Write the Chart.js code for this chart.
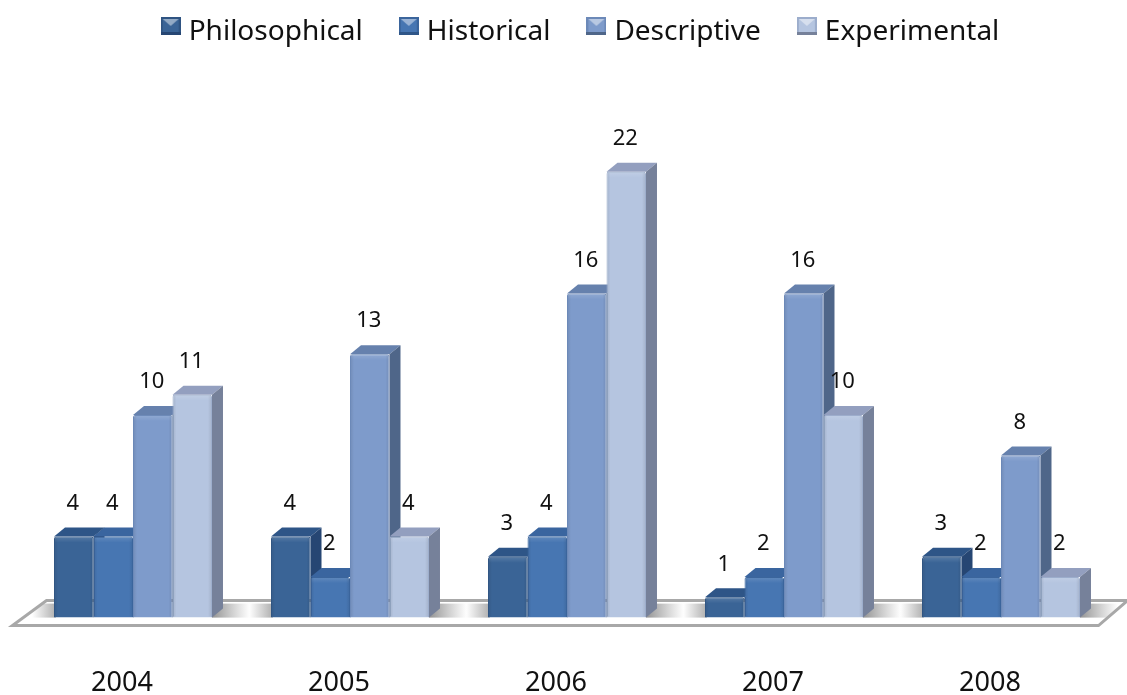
<!DOCTYPE html>
<html lang="en">
<head>
<meta charset="UTF-8">
<title>Research types by year</title>
<script src="https://cdn.jsdelivr.net/npm/chart.js"></script>
<style>
    html, body { margin: 0; padding: 0; background: #fff; }
    #wrap { width: 1127px; height: 695px; position: relative; }
</style>
</head>
<body>
<div id="wrap"><canvas id="myChart"></canvas></div>
<script>
    var years = ['2004', '2005', '2006', '2007', '2008'];
    var philosophical = [4, 4, 3, 1, 3];
    var historical = [4, 2, 4, 2, 2];
    var descriptive = [10, 13, 16, 16, 8];
    var experimental = [11, 4, 22, 10, 2];

    var seriesNames = ['Philosophical', 'Historical', 'Descriptive', 'Experimental'];
    var fronts = ['#3a6496', '#4776b2', '#7e9bcb', '#b5c5e0'];
    var edges = ['#2f5482', '#3b659c', '#6c89b8', '#9cadcc'];
    var tops = ['#2e5587', '#3a659f', '#6681ad', '#939fbf'];
    var sides = ['#264673', '#2f5688', '#4f6689', '#76819a'];

    var DX = 11, DY = 9;

    // small beveled square for the legend, sits high in a taller canvas
    function legendBox(i) {
        var c = document.createElement('canvas');
        c.width = 20; c.height = 30;
        var g = c.getContext('2d');
        g.fillStyle = edges[i];
        g.fillRect(0, 0, 20, 18);
        g.fillStyle = sides[i];
        g.fillRect(0, 15, 20, 3);
        g.fillStyle = fronts[i];
        g.fillRect(2, 2, 16, 13);
        g.fillStyle = 'rgba(255,255,255,0.45)';
        g.beginPath();
        g.moveTo(2, 2); g.lineTo(18, 2); g.lineTo(10, 9);
        g.fill();
        return c;
    }

    // legend sits right of centre and the plot starts well below it
    const legendPlace = {
        id: 'legendPlace',
        beforeInit: function (chart) {
            var fit = chart.legend.fit;
            chart.legend.fit = function () {
                fit.call(this);
                this.height = 135;
            };
        },
        afterLayout: function (chart) {
            chart.legend.left += 32;
        }
    };

    // the grey tray the bars stand on, with shadows around each group
    const floor = {
        id: 'floor',
        beforeDatasetsDraw: function (chart) {
            var ctx = chart.ctx;
            var x = chart.scales.x, y = chart.scales.y;
            var base = y.getPixelForValue(0);
            var l = x.left - 12, r = x.right - 11;
            var t = base - 17, b = base + 8;

            ctx.save();
            ctx.beginPath();
            ctx.moveTo(l, b); ctx.lineTo(r, b); ctx.lineTo(r + 29, t); ctx.lineTo(l + 34, t);
            ctx.closePath();
            ctx.fillStyle = '#fff';
            ctx.fill();
            ctx.clip();

            var step = x.width / years.length;
            years.forEach(function (yr, i) {
                var cx = x.getPixelForValue(i);
                var gl = cx - step * 0.364, gr = cx + step * 0.364;
                var a = ctx.createLinearGradient(gl - 22, 0, gl + 2, 0);
                a.addColorStop(0, 'rgba(120,120,120,0)');
                a.addColorStop(1, 'rgba(120,120,120,0.6)');
                ctx.fillStyle = a;
                ctx.fillRect(gl - 22, t + 3, 24, base - t - 3);
                var s = ctx.createLinearGradient(gr, 0, gr + 38, 0);
                s.addColorStop(0, 'rgba(100,100,100,0.7)');
                s.addColorStop(1, 'rgba(120,120,120,0)');
                ctx.fillStyle = s;
                ctx.fillRect(gr, t + 3, 38, base - t - 3);
            });
            ctx.restore();

            ctx.beginPath();
            ctx.moveTo(l, b); ctx.lineTo(r, b); ctx.lineTo(r + 29, t); ctx.lineTo(l + 34, t);
            ctx.closePath();
            ctx.strokeStyle = '#a8a8a8';
            ctx.lineWidth = 3;
            ctx.stroke();

            drawFaces(chart);
        }
    };

    // top and side faces of all bars, left to right, the fronts come after and cover what they should
    function drawFaces(chart) {
        var ctx = chart.ctx;
        years.forEach(function (yr, j) {
            seriesNames.forEach(function (n, i) {
                var bar = chart.getDatasetMeta(i).data[j];
                var l = bar.x - bar.width / 2, r = bar.x + bar.width / 2;
                ctx.fillStyle = tops[i];
                ctx.beginPath();
                ctx.moveTo(l, bar.y); ctx.lineTo(l + DX, bar.y - DY);
                ctx.lineTo(r + DX, bar.y - DY); ctx.lineTo(r, bar.y);
                ctx.closePath();
                ctx.fill();
                ctx.fillStyle = sides[i];
                ctx.beginPath();
                ctx.moveTo(r, bar.y); ctx.lineTo(r + DX, bar.y - DY);
                ctx.lineTo(r + DX, bar.base - DY); ctx.lineTo(r, bar.base);
                ctx.closePath();
                ctx.fill();
            });
        });
    }

    const bevel = {
        id: 'bevel',
        afterDatasetDraw: function (chart, args) {
            var ctx = chart.ctx;
            chart.getDatasetMeta(args.index).data.forEach(function (bar) {
                var l = bar.x - bar.width / 2, r = bar.x + bar.width / 2;
                var h = bar.base - bar.y;
                var g = ctx.createLinearGradient(0, bar.y, 0, bar.y + 6);
                g.addColorStop(0, 'rgba(255,255,255,0.15)');
                g.addColorStop(1, 'rgba(255,255,255,0)');
                ctx.fillStyle = g;
                ctx.fillRect(l + 1, bar.y + 1, bar.width - 2, 6);
                var a = ctx.createLinearGradient(l, 0, l + 4, 0);
                a.addColorStop(0, 'rgba(0,0,0,0.1)');
                a.addColorStop(1, 'rgba(0,0,0,0)');
                ctx.fillStyle = a;
                ctx.fillRect(l + 1, bar.y + 1, 4, h - 2);
                var e = ctx.createLinearGradient(r - 4, 0, r, 0);
                e.addColorStop(0, 'rgba(0,0,0,0)');
                e.addColorStop(1, 'rgba(0,0,0,0.1)');
                ctx.fillStyle = e;
                ctx.fillRect(r - 5, bar.y + 1, 4, h - 2);
            });
        }
    };

    const valueLabels = {
        id: 'valueLabels',
        afterDatasetsDraw: function (chart) {
            var ctx = chart.ctx;
            ctx.save();
            ctx.font = '22px "Noto Sans"';
            ctx.fillStyle = '#111';
            ctx.textAlign = 'center';
            ctx.textBaseline = 'middle';
            chart.data.datasets.forEach(function (ds, i) {
                chart.getDatasetMeta(i).data.forEach(function (bar, j) {
                    ctx.fillText(ds.data[j], bar.x - 1, bar.y - 33);
                });
            });
            ctx.restore();
        }
    };

    function makeSet(i, values) {
        return {
            label: seriesNames[i],
            data: values,
            backgroundColor: fronts[i],
            borderColor: edges[i],
            borderWidth: 1,
            borderRadius: { topLeft: 2, topRight: 2 },
            barPercentage: 1,
            categoryPercentage: 0.728
        };
    }

    new Chart(document.getElementById('myChart'), {
        type: 'bar',
        data: {
            labels: years,
            datasets: [
                makeSet(0, philosophical),
                makeSet(1, historical),
                makeSet(2, descriptive),
                makeSet(3, experimental)
            ]
        },
        plugins: [legendPlace, floor, bevel, valueLabels],
        options: {
            responsive: true,
            maintainAspectRatio: false,
            animation: false,
            clip: false,
            layout: { padding: { left: 24.5, right: 17.5, top: -24, bottom: -47 } },
            plugins: {
                tooltip: { enabled: false },
                legend: {
                    position: 'top',
                    labels: {
                        color: '#111',
                        font: { family: 'Noto Sans', size: 28 },
                        padding: 42,
                        usePointStyle: true,
                        pointStyleWidth: 8,
                        boxHeight: 20,
                        generateLabels: function (chart) {
                            return seriesNames.map(function (n, i) {
                                return { text: n, datasetIndex: i, pointStyle: legendBox(i), fontColor: '#111', lineWidth: 0 };
                            });
                        }
                    }
                }
            },
            scales: {
                x: {
                    grid: { display: false },
                    border: { display: false },
                    ticks: {
                        color: '#111',
                        padding: 42,
                        labelOffset: -11,
                        font: { family: 'Noto Sans', size: 27 }
                    }
                },
                y: {
                    display: false,
                    min: 0,
                    max: 25
                }
            }
        }
    });
</script>
</body>
</html>
